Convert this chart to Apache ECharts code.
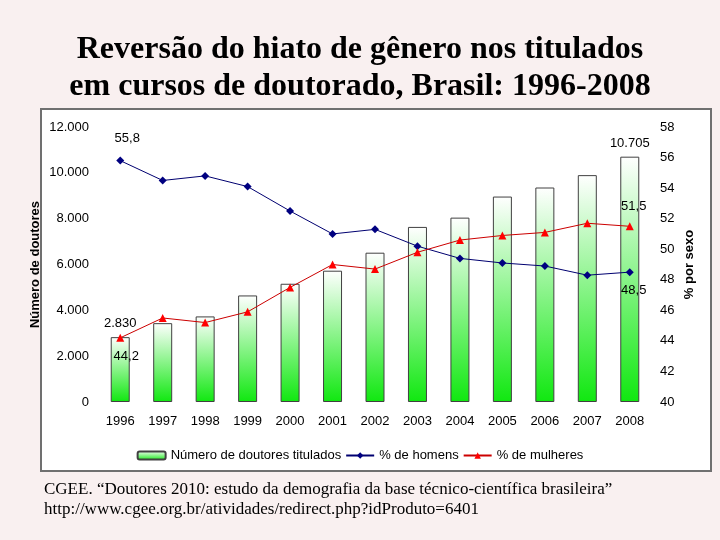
<!DOCTYPE html>
<html>
<head>
<meta charset="utf-8">
<script src="https://cdn.jsdelivr.net/npm/echarts@6/dist/echarts.min.js"></script>
<style>
  html, body { margin: 0; padding: 0; background: #f9f0f0; }
  #chart { width: 720px; height: 540px; }
</style>
</head>
<body>
<div id="chart"></div>
<script>
const years = ["1996", "1997", "1998", "1999", "2000", "2001", "2002", "2003", "2004", "2005", "2006", "2007", "2008"];
const doutores = [2830, 3440, 3735, 4650, 5160, 5730, 6515, 7640, 8045, 8965, 9360, 9900, 10705];
const homens = [55.8, 54.5, 54.8, 54.1, 52.5, 51.0, 51.3, 50.2, 49.4, 49.1, 48.9, 48.3, 48.5];
const mulheres = [44.2, 45.5, 45.2, 45.9, 47.5, 49.0, 48.7, 49.8, 50.6, 50.9, 51.1, 51.7, 51.5];

const last = years.length - 1;
const thousands = (v) => String(v).replace(/\B(?=(\d{3})+(?!\d))/g, ".");
const comma = (v) => String(v.toFixed(1)).replace(".", ",");

const sans = "Liberation Sans";
const serif = "Liberation Serif";

const barGradient = new echarts.graphic.LinearGradient(0, 0, 0, 1, [
  { offset: 0, color: "#ffffff" },
  { offset: 1, color: "#10e810" },
]);

// only first and last points carry a value label
function withEndLabels(values, first, end, fmt) {
  return values.map((v, i) => {
    if (i === 0) return { value: v, label: { show: true, formatter: fmt(v), ...first } };
    if (i === last) return { value: v, label: { show: true, formatter: fmt(v), ...end } };
    return v;
  });
}

const chart = echarts.init(document.getElementById("chart"));
chart.setOption({
  backgroundColor: "#f9f0f0",
  animation: false,
  graphic: [
    {
      type: "rect",
      shape: { x: 41, y: 109, width: 670, height: 362 },
      style: { fill: "#ffffff", stroke: "#707070", lineWidth: 2 },
      z: -10,
    },
    {
      type: "text",
      left: 44,
      top: 480,
      style: {
        text: "CGEE. “Doutores 2010: estudo da demografia da base técnico-científica brasileira”\nhttp://www.cgee.org.br/atividades/redirect.php?idProduto=6401",
        font: "17px " + serif,
        fill: "#000",
        lineHeight: 20,
      },
    },
  ],
  title: {
    text: "Reversão do hiato de gênero nos titulados\nem cursos de doutorado, Brasil: 1996-2008",
    left: "center",
    top: 26,
    textStyle: {
      fontFamily: serif,
      fontSize: 32,
      fontWeight: "bold",
      color: "#000",
      lineHeight: 37,
    },
  },
  legend: {
    bottom: 73,
    left: "center",
    itemGap: 4,
    itemWidth: 28,
    itemHeight: 8,
    textStyle: { fontFamily: sans, fontSize: 13, color: "#000" },
    data: ["Número de doutores titulados", "% de homens", "% de mulheres"],
  },
  grid: { left: 99, right: 69, top: 127, bottom: 138, containLabel: false },
  xAxis: {
    type: "category",
    data: years,
    axisLine: { show: false },
    axisTick: { show: false },
    axisLabel: { fontFamily: sans, fontSize: 13, color: "#000", margin: 13 },
  },
  yAxis: [
    {
      type: "value",
      min: 0,
      max: 12000,
      interval: 2000,
      name: "Número de doutores",
      nameLocation: "middle",
      nameGap: 57,
      nameMoveOverlap: false,
      nameTextStyle: { fontFamily: sans, fontSize: 13, fontWeight: "bold", color: "#000" },
      axisLine: { show: false },
      axisTick: { show: false },
      splitLine: { show: false },
      axisLabel: { fontFamily: sans, fontSize: 13, color: "#000", margin: 10, formatter: thousands },
    },
    {
      type: "value",
      min: 40,
      max: 58,
      interval: 2,
      name: "% por sexo",
      nameLocation: "middle",
      nameGap: 32,
      nameMoveOverlap: false,
      nameTextStyle: { fontFamily: sans, fontSize: 13, fontWeight: "bold", color: "#000" },
      axisLine: { show: false },
      axisTick: { show: false },
      splitLine: { show: false },
      axisLabel: { fontFamily: sans, fontSize: 13, color: "#000", margin: 9 },
    },
  ],
  series: [
    {
      name: "Número de doutores titulados",
      type: "bar",
      yAxisIndex: 0,
      barWidth: 19,
      itemStyle: { color: barGradient, borderColor: "#404040", borderWidth: 1 },
      label: { fontFamily: sans, fontSize: 13, color: "#000" },
      data: withEndLabels(doutores, { position: "top", distance: 7 }, { position: "top", distance: 7 }, thousands),
    },
    {
      name: "% de homens",
      type: "line",
      yAxisIndex: 1,
      symbol: "diamond",
      symbolSize: 8,
      lineStyle: { color: "#000070", width: 1 },
      itemStyle: { color: "#000080" },
      label: { fontFamily: sans, fontSize: 13, color: "#000" },
      data: withEndLabels(homens, { position: "top", distance: 12, offset: [7, 0] }, { position: "bottom", distance: 8, offset: [4, 0] }, comma),
      z: 3,
    },
    {
      name: "% de mulheres",
      type: "line",
      yAxisIndex: 1,
      symbol: "triangle",
      symbolSize: 8,
      lineStyle: { color: "#cc0000", width: 1 },
      itemStyle: { color: "#ff0000" },
      label: { fontFamily: sans, fontSize: 13, color: "#000" },
      data: withEndLabels(mulheres, { position: "bottom", distance: 8, offset: [6, 0] }, { position: "top", distance: 9, offset: [4, 0] }, comma),
      z: 4,
    },
  ],
});
</script>
</body>
</html>
